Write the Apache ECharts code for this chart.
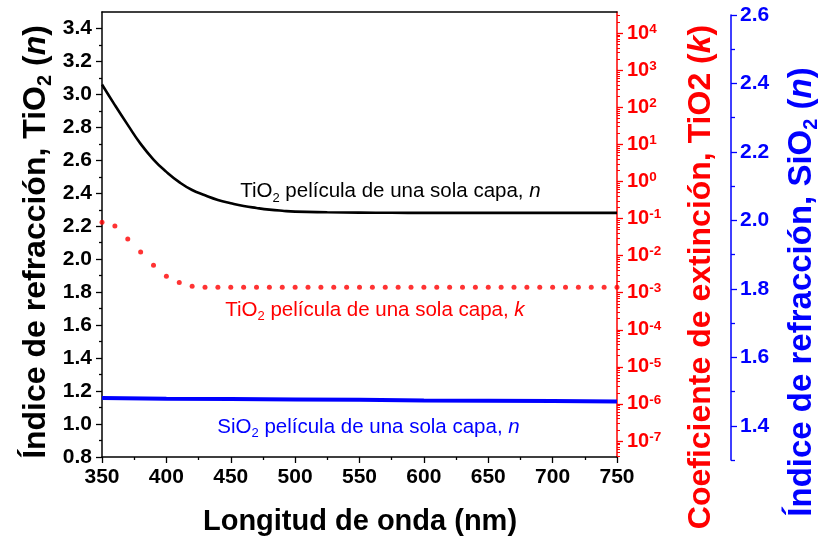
<!DOCTYPE html>
<html>
<head>
<meta charset="utf-8">
<script src="https://cdn.jsdelivr.net/npm/echarts@6/dist/echarts.min.js"></script>
<style>
  html, body { margin: 0; padding: 0; background: #ffffff; }
  #chart { width: 824px; height: 542px; }
</style>
</head>
<body>
<div id="chart"></div>
<script>
// Wavelength grid (nm) of the TiO2 refractive-index curve
const wavelength = [350, 360, 370, 380, 390, 400, 410, 420, 430, 440, 450, 460, 470, 480, 490, 500,
                    525, 550, 575, 600, 625, 650, 675, 700, 725, 750];
// TiO2 single-layer film, refractive index n
const tio2N = [3.06, 2.935, 2.815, 2.70, 2.605, 2.53, 2.468, 2.42, 2.388, 2.36, 2.34, 2.323, 2.311, 2.301, 2.294, 2.289,
               2.285, 2.283, 2.282, 2.281, 2.281, 2.281, 2.281, 2.281, 2.281, 2.281];

// TiO2 single-layer film, extinction coefficient k (every 10 nm)
const kWavelength = [350, 360, 370, 380, 390, 400, 410, 420, 430, 440, 450, 460, 470, 480, 490, 500,
                     510, 520, 530, 540, 550, 560, 570, 580, 590, 600, 610, 620, 630, 640, 650, 660,
                     670, 680, 690, 700, 710, 720, 730, 740, 750];
const tio2K = [0.079, 0.063, 0.028, 0.0126, 0.0055, 0.0028, 0.0019, 0.0015, 0.0014, 0.0014, 0.0014, 0.0014,
               0.0014, 0.0014, 0.0014, 0.0014, 0.0014, 0.0014, 0.0014, 0.0014, 0.0014, 0.0014, 0.0014, 0.0014,
               0.0014, 0.0014, 0.0014, 0.0014, 0.0014, 0.0014, 0.0014, 0.0014, 0.0014, 0.0014, 0.0014, 0.0014,
               0.0014, 0.0014, 0.0014, 0.0014, 0.0014];

// SiO2 single-layer film, refractive index n
const sio2Wavelength = [350, 400, 450, 500, 550, 600, 650, 700, 750];
const sio2N = [1.481, 1.479, 1.478, 1.477, 1.476, 1.474, 1.473, 1.472, 1.471];

// Tick labels
const xTickLabels = [350, 400, 450, 500, 550, 600, 650, 700, 750];
const leftTicks = [0.8, 1.0, 1.2, 1.4, 1.6, 1.8, 2.0, 2.2, 2.4, 2.6, 2.8, 3.0, 3.2, 3.4];
const leftMinorTicks = [0.9, 1.1, 1.3, 1.5, 1.7, 1.9, 2.1, 2.3, 2.5, 2.7, 2.9, 3.1, 3.3];
const kTicks = [1e-7, 1e-6, 1e-5, 1e-4, 1e-3, 1e-2, 1e-1, 1e0, 1e1, 1e2, 1e3, 1e4];
const sio2Ticks = [1.4, 1.6, 1.8, 2.0, 2.2, 2.4, 2.6];
const sio2MinorTicks = [1.3, 1.5, 1.7, 1.9, 2.1, 2.3, 2.5];

// Axis ranges
const X_MIN = 350, X_MAX = 750;
const LEFT_MIN = 0.8, LEFT_MAX = 3.5;
const K_MIN = Math.pow(10, -7.43), K_MAX = Math.pow(10, 4.57);
const SIO2_MIN = 1.3, SIO2_MAX = 2.6;

// Log minor ticks (2..9 within each decade)
const kMinorTicks = [];
for (let e = -8; e <= 4; e++) {
  for (let m = 2; m <= 9; m++) {
    const v = m * Math.pow(10, e);
    if (v > K_MIN && v < K_MAX) kMinorTicks.push(v);
  }
}

const FONT = '"Liberation Sans", Arial, Helvetica, sans-serif';
const BLACK = '#000000', RED = '#ff0000', BLUE = '#0000ff';

function pairs(xs, ys) { return xs.map((x, i) => [x, ys[i]]); }

function filmLabelRich(color) {
  return {
    t: { fontSize: 20.5, fontFamily: FONT, color: color, lineHeight: 26 },
    s: { fontSize: 13, fontFamily: FONT, color: color, lineHeight: 14, verticalAlign: 'bottom' },
    i: { fontSize: 20.5, fontFamily: FONT, color: color, fontStyle: 'italic', lineHeight: 26 }
  };
}

function titleRich(color, size) {
  return {
    b: { fontSize: size, fontWeight: 'bold', fontFamily: FONT, fill: color, lineHeight: size + 6 },
    s: { fontSize: 20, fontWeight: 'bold', fontFamily: FONT, fill: color, lineHeight: 22, verticalAlign: 'bottom' },
    i: { fontSize: size, fontWeight: 'bold', fontStyle: 'italic', fontFamily: FONT, fill: color, lineHeight: size + 6 }
  };
}

const chart = echarts.init(document.getElementById('chart'), null, { renderer: 'canvas' });

const option = {
  animation: false,
  backgroundColor: '#ffffff',
  grid: [
    { left: 102, right: 207, top: 12, bottom: 85 },
    { left: 102, right: 207, top: 15, bottom: 82 }
  ],
  xAxis: [
    {
      type: 'value', gridIndex: 0, min: X_MIN, max: X_MAX, interval: 50,
      axisLine: { show: true, lineStyle: { color: BLACK, width: 1.5 } },
      axisTick: { show: true, inside: false, length: 6, lineStyle: { color: BLACK, width: 1.3 } },
      minorTick: { show: true, splitNumber: 2, length: 3, lineStyle: { color: BLACK, width: 1.3 } },
      axisLabel: {
        show: true, margin: 10, color: BLACK, fontSize: 21, fontWeight: 'bold', fontFamily: FONT,
        customValues: xTickLabels
      },
      splitLine: { show: false }
    },
    {
      type: 'value', gridIndex: 0, position: 'top', min: X_MIN, max: X_MAX,
      axisLine: { show: true, lineStyle: { color: BLACK, width: 1.5 } },
      axisTick: { show: false }, axisLabel: { show: false }, splitLine: { show: false }
    },
    {
      type: 'value', gridIndex: 1, min: X_MIN, max: X_MAX, show: false
    }
  ],
  yAxis: [
    {
      type: 'value', gridIndex: 0, position: 'left', min: LEFT_MIN, max: LEFT_MAX,
      axisLine: { show: true, lineStyle: { color: BLACK, width: 1.5 } },
      axisTick: { show: true, inside: false, length: 6, lineStyle: { color: BLACK, width: 1.3 }, customValues: leftTicks },
      axisLabel: {
        show: true, margin: 10, color: BLACK, fontSize: 21, fontWeight: 'bold', fontFamily: FONT,
        customValues: leftTicks, formatter: v => v.toFixed(1)
      },
      splitLine: { show: false }
    },
    {
      type: 'value', gridIndex: 0, position: 'left', min: LEFT_MIN, max: LEFT_MAX,
      axisLine: { show: false },
      axisTick: { show: true, inside: false, length: 3, lineStyle: { color: BLACK, width: 1.3 }, customValues: leftMinorTicks },
      axisLabel: { show: false }, splitLine: { show: false }
    },
    {
      type: 'log', logBase: 10, gridIndex: 0, position: 'right', min: K_MIN, max: K_MAX,
      axisLine: { show: true, lineStyle: { color: RED, width: 1.5 } },
      axisTick: { show: true, inside: false, length: 6, lineStyle: { color: RED, width: 1.3 }, customValues: kTicks },
      axisLabel: {
        show: true, margin: 10, customValues: kTicks,
        formatter: v => '{b|10}{e|' + Math.round(Math.log10(v)) + '}',
        rich: {
          b: { fontSize: 20, fontWeight: 'bold', fontFamily: FONT, color: RED, lineHeight: 22 },
          e: { fontSize: 13.5, fontWeight: 'bold', fontFamily: FONT, color: RED, lineHeight: 9, verticalAlign: 'top' }
        }
      },
      splitLine: { show: false }
    },
    {
      type: 'log', logBase: 10, gridIndex: 0, position: 'right', min: K_MIN, max: K_MAX,
      axisLine: { show: false },
      axisTick: { show: true, inside: false, length: 3, lineStyle: { color: RED, width: 1 }, customValues: kMinorTicks },
      axisLabel: { show: false }, splitLine: { show: false }
    },
    {
      type: 'value', gridIndex: 1, position: 'right', offset: 114, min: SIO2_MIN, max: SIO2_MAX,
      axisLine: { show: true, lineStyle: { color: BLUE, width: 1.5 } },
      axisTick: { show: true, inside: false, length: 6, lineStyle: { color: BLUE, width: 1.3 }, customValues: sio2Ticks },
      axisLabel: {
        show: true, margin: 9, color: BLUE, fontSize: 21, fontWeight: 'bold', fontFamily: FONT,
        customValues: sio2Ticks, formatter: v => v.toFixed(1)
      },
      splitLine: { show: false }
    },
    {
      type: 'value', gridIndex: 1, position: 'right', offset: 114, min: SIO2_MIN, max: SIO2_MAX,
      axisLine: { show: false },
      axisTick: { show: true, inside: false, length: 4, lineStyle: { color: BLUE, width: 1.3 }, customValues: sio2MinorTicks },
      axisLabel: { show: false }, splitLine: { show: false }
    }
  ],
  series: [
    {
      name: 'TiO2 n', type: 'line', xAxisIndex: 0, yAxisIndex: 0,
      data: pairs(wavelength, tio2N), smooth: 0.5, showSymbol: false, symbol: 'none',
      lineStyle: { color: BLACK, width: 2.6 }, z: 3,
      markPoint: {
        symbol: 'circle', symbolSize: 1, itemStyle: { color: 'rgba(0,0,0,0)' }, silent: true,
        label: {
          show: true, position: 'inside',
          formatter: '{t|TiO}{s|2}{t| película de una sola capa, }{i|n}', rich: filmLabelRich(BLACK)
        },
        data: [{ coord: [574, 2.41] }]
      }
    },
    {
      name: 'TiO2 k', type: 'scatter', xAxisIndex: 0, yAxisIndex: 2,
      data: pairs(kWavelength, tio2K), symbol: 'circle', symbolSize: 5,
      itemStyle: { color: RED }, z: 3,
      markPoint: {
        symbol: 'circle', symbolSize: 1, itemStyle: { color: 'rgba(0,0,0,0)' }, silent: true,
        label: {
          show: true, position: 'inside',
          formatter: '{t|TiO}{s|2}{t| película de una sola capa, }{i|k}', rich: filmLabelRich(RED)
        },
        data: [{ coord: [562, 3.44e-4] }]
      }
    },
    {
      name: 'SiO2 n', type: 'line', xAxisIndex: 2, yAxisIndex: 4,
      data: pairs(sio2Wavelength, sio2N), showSymbol: false, symbol: 'none',
      lineStyle: { color: BLUE, width: 4 }, z: 3,
      markPoint: {
        symbol: 'circle', symbolSize: 1, itemStyle: { color: 'rgba(0,0,0,0)' }, silent: true,
        label: {
          show: true, position: 'inside',
          formatter: '{t|SiO}{s|2}{t| película de una sola capa, }{i|n}', rich: filmLabelRich(BLUE)
        },
        data: [{ coord: [557, 1.396] }]
      }
    }
  ],
  graphic: [
    {
      type: 'text', x: 360, y: 522, silent: true,
      style: {
        text: '{b|Longitud de onda (nm)}', rich: titleRich(BLACK, 29),
        align: 'center', verticalAlign: 'middle'
      }
    },
    {
      type: 'text', x: 36, y: 242, rotation: Math.PI / 2, silent: true,
      style: {
        text: '{b|Índice de refracción, TiO}{s|2}{b| (}{i|n}{b|)}', rich: titleRich(BLACK, 32),
        align: 'center', verticalAlign: 'middle'
      }
    },
    {
      type: 'text', x: 701, y: 277, rotation: Math.PI / 2, silent: true,
      style: {
        text: '{b|Coeficiente de extinción, TiO2 (}{i|k}{b|)}', rich: titleRich(RED, 32),
        align: 'center', verticalAlign: 'middle'
      }
    },
    {
      type: 'text', x: 802, y: 292, rotation: Math.PI / 2, silent: true,
      style: {
        text: '{b|Índice de refracción, SiO}{s|2}{b| (}{i|n}{b|)}', rich: titleRich(BLUE, 33),
        align: 'center', verticalAlign: 'middle'
      }
    }
  ]
};

chart.setOption(option);
</script>
</body>
</html>
